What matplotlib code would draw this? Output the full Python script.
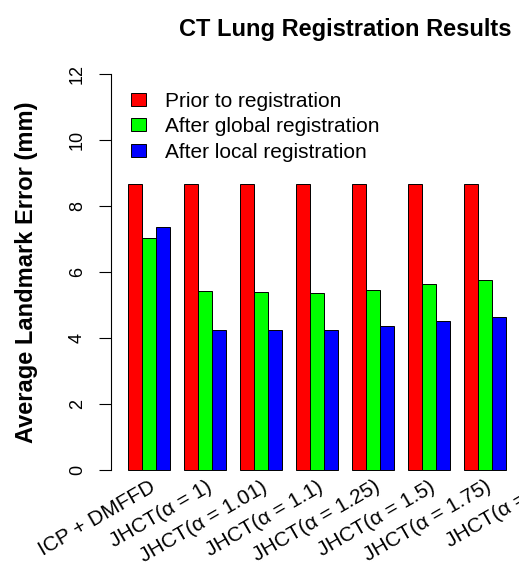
import numpy as np
from matplotlib import pyplot as plt

plt.rcParams['font.family'] = ['Liberation Sans', 'DejaVu Sans']

methods = ['ICP + DMFFD', 'JHCT(α = 1)', 'JHCT(α = 1.01)', 'JHCT(α = 1.1)',
           'JHCT(α = 1.25)', 'JHCT(α = 1.5)', 'JHCT(α = 1.75)', 'JHCT(α = 2)']
prior_err = [8.67, 8.67, 8.67, 8.67, 8.67, 8.67, 8.67, 8.67]
global_err = [7.03, 5.41, 5.38, 5.37, 5.46, 5.63, 5.76, 5.90]
local_err = [7.37, 4.25, 4.24, 4.24, 4.35, 4.50, 4.65, 4.80]
series_names = ['Prior to registration', 'After global registration', 'After local registration']
series_colors = ['#ff0000', '#00ff00', '#0000ff']

W, H = 519, 562
fig = plt.figure(figsize=(W / 100, H / 100), dpi=100)
# plot region runs past the right edge, so the last group is cut off
ax = fig.add_axes([110.9 / W, 1 - 485.8 / H, 468.8 / W, 427.6 / H])

n = len(methods)
starts = 1 + 4 * np.arange(n)  # 3 bars per group, 1 unit gap
for k, vals in enumerate([prior_err, global_err, local_err]):
    ax.bar(starts + k, vals, width=1, align='edge', color=series_colors[k],
           edgecolor='black', linewidth=0.7, label=series_names[k])

ax.set_xlim(-0.24, 4 * n + 1.24)
ax.set_ylim(-0.48, 12.48)

for s in ['top', 'right', 'bottom']:
    ax.spines[s].set_visible(False)
ax.spines['left'].set_bounds(0, 12)
ax.spines['left'].set_linewidth(0.8)
ax.set_xticks([])
ax.set_yticks(np.arange(0, 13, 2))
ax.tick_params(axis='y', length=9, width=0.8, pad=9, labelsize=13, labelrotation=90)
for t in ax.get_yticklabels():
    t.set_va('center')

for i, name in enumerate(methods):
    ax.text(starts[i] + 1.5, -0.22, name, rotation=30, ha='right', va='top',
            rotation_mode='anchor', fontsize=15, clip_on=False)

ax.set_ylabel('Average Landmark Error (mm)', fontsize=17, fontweight='bold')
ax.yaxis.set_label_coords(-0.155, 0.5)
ax.set_title('CT Lung Registration Results', fontsize=17, fontweight='bold', pad=16)

ax.legend(loc='upper left', bbox_to_anchor=(131 / W, 1 - 92 / H),
          bbox_transform=fig.transFigure, frameon=False, fontsize=15,
          handlelength=0.72, handleheight=0.58, handletextpad=0.9,
          labelspacing=0.3, borderpad=0, borderaxespad=0)

plt.savefig('out.png', dpi=100)
